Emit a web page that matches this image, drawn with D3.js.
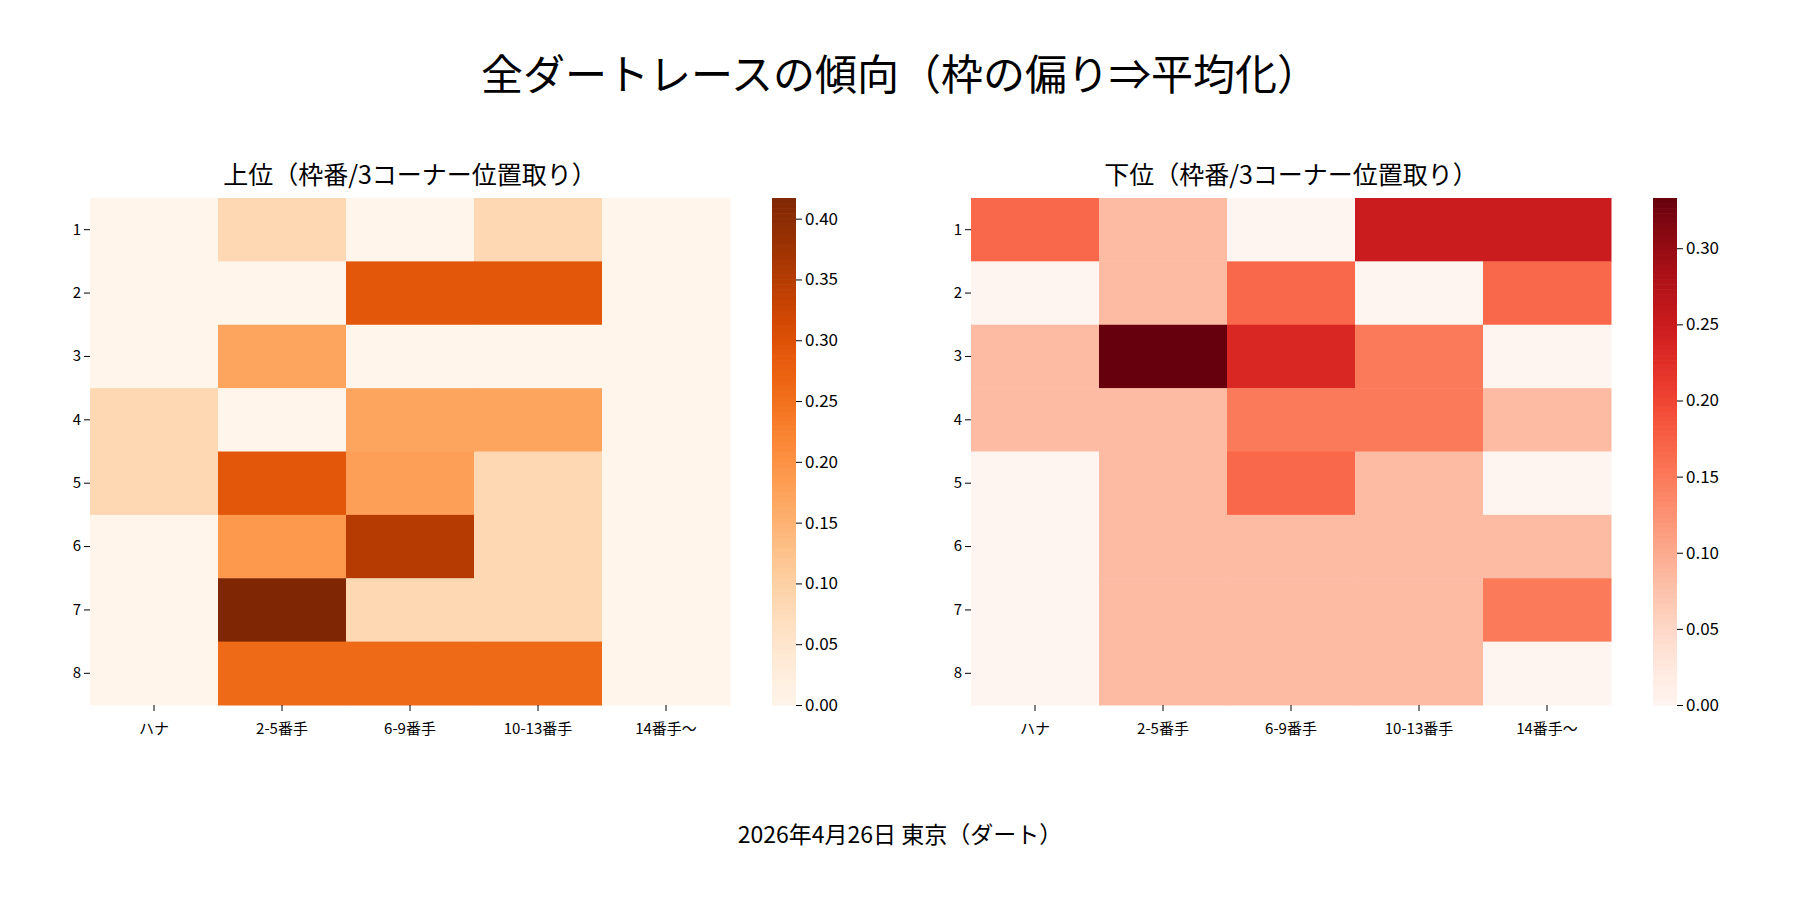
<!DOCTYPE html>
<html><head><meta charset="utf-8">
<script src="https://cdn.jsdelivr.net/npm/d3@7"></script>
<style>body{margin:0;background:#fff}text{font-family:"Noto Sans CJK JP","DejaVu Sans",sans-serif}</style>
</head><body><svg id="chart" width="1800" height="900"></svg>
<script>
const rowLabels = ["1","2","3","4","5","6","7","8"];
const colLabels = ["ハナ","2-5番手","6-9番手","10-13番手","14番手〜"];
const topValues = [
  [0,0.083,0,0.083,0],
  [0,0,0.29,0.29,0],
  [0,0.17,0,0,0],
  [0.083,0,0.17,0.17,0],
  [0.083,0.29,0.18,0.083,0],
  [0,0.19,0.35,0.083,0],
  [0,0.417,0.083,0.083,0],
  [0,0.26,0.26,0.26,0]
];
const bottomValues = [
  [0.167,0.083,0,0.25,0.25],
  [0,0.083,0.167,0,0.167],
  [0.083,0.333,0.233,0.15,0],
  [0.083,0.083,0.15,0.15,0.083],
  [0,0.083,0.167,0.083,0],
  [0,0.083,0.083,0.083,0.083],
  [0,0.083,0.083,0.083,0.15],
  [0,0.083,0.083,0.083,0]
];
const topTicks = [0,0.05,0.10,0.15,0.20,0.25,0.30,0.35,0.40];
const bottomTicks = [0,0.05,0.10,0.15,0.20,0.25,0.30];

const svg = d3.select("#chart");
svg.append("text").attr("x",900).attr("y",90).attr("text-anchor","middle")
  .attr("font-size",42).text("全ダートレースの傾向（枠の偏り⇒平均化）");
svg.append("text").attr("x",900).attr("y",843).attr("text-anchor","middle")
  .attr("font-size",23).text("2026年4月26日 東京（ダート）");

function heatmap(values, ticks, interp, left, title) {
  const top = 198, w = 640, h = 507;
  const g = svg.append("g").attr("transform", `translate(${left},${top})`);
  const x = d3.scaleBand().domain(colLabels).range([0,w]);
  const y = d3.scaleBand().domain(rowLabels).range([0,h]);
  const max = d3.max(values.flat());
  const color = d3.scaleSequential(interp).domain([0,max]);
  values.forEach((row,i) => row.forEach((v,j) => {
    g.append("rect").attr("x",x(colLabels[j])).attr("y",y(rowLabels[i]))
      .attr("width",x.bandwidth()+0.5).attr("height",y.bandwidth()+0.5).attr("fill",color(v));
  }));
  const ax = g.append("g").attr("transform",`translate(0,${h})`).call(d3.axisBottom(x).tickSizeOuter(0));
  const ay = g.append("g").call(d3.axisLeft(y).tickSizeOuter(0));
  [ax,ay].forEach(a => { a.select(".domain").remove(); a.selectAll("text").attr("font-size",15).attr("fill","#000"); });
  ax.selectAll("text").attr("dy","1.3em");
  g.append("text").attr("x",w/2).attr("y",-14).attr("text-anchor","middle").attr("font-size",25).text(title);

  // colorbar
  const cb = svg.append("g").attr("transform",`translate(${left+682},${top})`);
  const cy = d3.scaleLinear().domain([0,max]).range([h,0]);
  const n = 100;
  d3.range(n).forEach(k => {
    cb.append("rect").attr("x",0).attr("width",24)
      .attr("y",cy(max*(k+1)/n)).attr("height",h/n+0.6).attr("fill",color(max*(k+0.5)/n));
  });
  const ca = cb.append("g").attr("transform","translate(24,0)")
    .call(d3.axisRight(cy).tickValues(ticks).tickFormat(d3.format(".2f")).tickSizeOuter(0));
  ca.select(".domain").remove();
  ca.selectAll("text").attr("font-size",17).attr("fill","#000");
}
heatmap(topValues, topTicks, d3.interpolateOranges, 90, "上位（枠番/3コーナー位置取り）");
heatmap(bottomValues, bottomTicks, d3.interpolateReds, 971, "下位（枠番/3コーナー位置取り）");
</script></body></html>
